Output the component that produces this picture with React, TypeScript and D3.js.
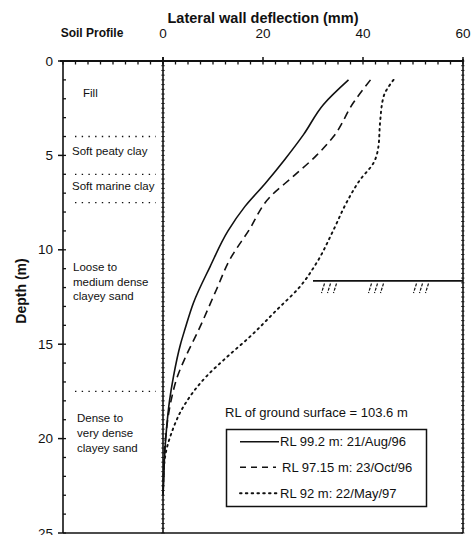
import React from "react";
import * as d3 from "d3";

// ---- data ----
const xTicks = [0, 20, 40, 60];
const yTicks = [0, 5, 10, 15, 20, 25];

const depthA = [1.0, 2.3, 3.9, 5.2, 6.5, 7.7, 9.0, 10.9, 12.8, 14.2, 15.0, 16.7, 18.0, 19.5, 21.0, 22.5, 23.0];
const deflA = [37.1, 32.1, 28.1, 24.4, 20.4, 16.4, 13.0, 9.4, 6.1, 4.4, 3.5, 2.1, 1.3, 0.7, 0.3, 0.1, 0];

const depthB = [1.0, 2.2, 4.0, 5.0, 6.1, 7.2, 9.0, 10.5, 12.1, 14.2, 15.8, 16.7, 18.0, 20.0, 22.0, 23.0];
const deflB = [41.5, 38.1, 34.1, 30.7, 26.1, 21.4, 17.1, 13.4, 10.7, 7.2, 4.3, 2.9, 1.6, 0.5, 0.1, 0];

const depthC = [1.0, 1.9, 3.3, 4.5, 5.4, 6.3, 7.5, 8.95, 10.7, 11.95, 13.2, 14.6, 15.7, 16.7, 18.3, 19.7, 21.0, 22.5];
const deflC = [46.1, 44.1, 43.4, 43.1, 42.1, 39.4, 36.7, 34.1, 30.7, 27.4, 22.7, 17.4, 12.7, 8.7, 4.1, 1.7, 0.4, 0];

const seriesNames = ["RL 99.2 m: 21/Aug/96", "RL 97.15 m: 23/Oct/96", "RL 92 m: 22/May/97"];

const soilBoundaries = [4.0, 6.0, 7.5, 17.5];
const soilLabels = [
  { depth: 1.7, lines: ["Fill"], indent: 20 },
  { depth: 4.77, lines: ["Soft peaty clay"], indent: 9 },
  { depth: 6.6, lines: ["Soft marine clay"], indent: 9 },
  { depth: 10.9, lines: ["Loose to", "medium dense", "clayey sand"], indent: 10 },
  { depth: 18.93, lines: ["Dense to", "very dense", "clayey sand"], indent: 14 },
];

const groundDepth = 11.65;
const groundFrom = 30;
const hatchGroups = [31.8, 41.2, 50.2];

export default function App() {
  const x = d3.scaleLinear().domain([0, 60]).range([163, 463]);
  const y = d3.scaleLinear().domain([0, 25]).range([61, 533]);
  const prof = d3.scaleLinear().domain([0, 8]).range([63, 163]);

  const line = d3
    .line<[number, number]>()
    .x((d) => x(d[0]))
    .y((d) => y(d[1]))
    .curve(d3.curveMonotoneY);

  const pA = deflA.map((v, i) => [v, depthA[i]] as [number, number]);
  const pB = deflB.map((v, i) => [v, depthB[i]] as [number, number]);
  const pC = deflC.map((v, i) => [v, depthC[i]] as [number, number]);

  const ink = "#111";
  const font = "'Liberation Sans', Arial, sans-serif";

  const minorTop = d3.range(0, 60.01, 2.5);
  const minorProf = d3.range(0, 9);
  const minorY = d3.range(0, 25.01, 1);
  const fineY = d3.range(0, 25.01, 0.25);

  const styles = [
    { dash: undefined as string | undefined, w: 1.6 },
    { dash: "8,5", w: 1.6 },
    { dash: "1.6,4.2", w: 1.9 },
  ];

  const legendRowsY = [441.7, 467.3, 493.3];

  return (
    <svg
      width={475}
      height={535}
      style={{ position: "absolute", left: 0, top: 0, background: "#fff" }}
      fontFamily={font}
    >
      <rect x={0} y={0} width={475} height={535} fill="#fff" />
      {/* title */}
      <text x={263} y={18} textAnchor="middle" dominantBaseline="central" fontSize={14.5} fontWeight="bold" fill={ink}>
        Lateral wall deflection (mm)
      </text>
      <text x={92} y={33} textAnchor="middle" dominantBaseline="central" fontSize={12} fontWeight="bold" fill={ink}>
        Soil Profile
      </text>
      {xTicks.map((t) => (
        <text key={"xt" + t} x={x(t)} y={33} textAnchor="middle" dominantBaseline="central" fontSize={13.5} fill={ink}>
          {t}
        </text>
      ))}
      {yTicks.map((t) => (
        <text key={"yt" + t} x={53} y={y(t)} textAnchor="end" dominantBaseline="central" fontSize={13.5} fill={ink}>
          {t}
        </text>
      ))}
      <text
        transform={`translate(21,${291}) rotate(-90)`}
        textAnchor="middle"
        dominantBaseline="central"
        fontSize={14}
        fontWeight="bold"
        fill={ink}
      >
        Depth (m)
      </text>

      {/* frame */}
      <line x1={60} x2={463} y1={y(0)} y2={y(0)} stroke={ink} strokeWidth={2} />
      <line x1={63} x2={63} y1={y(0)} y2={y(25)} stroke={ink} strokeWidth={1.6} />
      <line x1={463} x2={463} y1={y(0) - 2} y2={y(25)} stroke={ink} strokeWidth={1.6} />
      <line x1={63} x2={463} y1={y(25)} y2={y(25)} stroke={ink} strokeWidth={1.6} />
      <line x1={x(0)} x2={x(0)} y1={y(0) - 4} y2={y(25)} stroke={ink} strokeWidth={1.6} />

      {/* top ticks */}
      {minorTop.map((t) => (
        <line key={"mt" + t} x1={x(t)} x2={x(t)} y1={y(0)} y2={y(0) + 3.5} stroke={ink} strokeWidth={1.3} />
      ))}
      {minorProf.map((t) => (
        <line key={"mp" + t} x1={prof(t)} x2={prof(t)} y1={y(0)} y2={y(0) + 3.5} stroke={ink} strokeWidth={1.3} />
      ))}
      {xTicks.map((t) => (
        <line key={"Mt" + t} x1={x(t)} x2={x(t)} y1={y(0) - 4} y2={y(0)} stroke={ink} strokeWidth={1.5} />
      ))}
      {/* left ticks */}
      {yTicks.map((t) => (
        <line key={"My" + t} x1={58} x2={63} y1={y(t)} y2={y(t)} stroke={ink} strokeWidth={1.5} />
      ))}
      {minorY.map((t) => (
        <line key={"my" + t} x1={63} x2={66} y1={y(t)} y2={y(t)} stroke={ink} strokeWidth={1.3} />
      ))}
      {/* textured vertical lines */}
      {fineY.map((t) => (
        <g key={"fy" + t}>
          <line x1={x(0) - 1.8} x2={x(0) + 1.8} y1={y(t)} y2={y(t)} stroke={ink} strokeWidth={0.8} />
          <line x1={461} x2={464.5} y1={y(t)} y2={y(t)} stroke={ink} strokeWidth={0.8} />
        </g>
      ))}

      {/* soil profile */}
      {soilBoundaries.map((d) => (
        <line
          key={"sb" + d}
          x1={75}
          x2={156}
          y1={y(d)}
          y2={y(d)}
          stroke={ink}
          strokeWidth={1.3}
          strokeDasharray="1.4,5.3"
        />
      ))}
      {soilLabels.map((s, i) => (
        <g key={"sl" + i}>
          {s.lines.map((ln, j) => (
            <text
              key={j}
              x={63 + s.indent}
              y={y(s.depth) + j * 14.8}
              dominantBaseline="central"
              fontSize={11.5}
              fill={ink}
            >
              {ln}
            </text>
          ))}
        </g>
      ))}

      {/* ground surface line */}
      <line x1={x(groundFrom)} x2={x(60)} y1={y(groundDepth)} y2={y(groundDepth)} stroke={ink} strokeWidth={1.8} />
      {hatchGroups.map((g) =>
        [0, 1.2, 2.4].map((o) => (
          <line
            key={"h" + g + o}
            x1={x(g + o) + 2.5}
            x2={x(g + o) - 0.5}
            y1={y(groundDepth) + 2.5}
            y2={y(groundDepth) + 12}
            stroke={ink}
            strokeWidth={1.2}
            strokeDasharray="3,1.5"
          />
        ))
      )}

      {/* curves */}
      {[pA, pB, pC].map((p, i) => (
        <path
          key={"c" + i}
          d={line(p) || ""}
          fill="none"
          stroke={ink}
          strokeWidth={styles[i].w}
          strokeDasharray={styles[i].dash}
          strokeLinecap={i === 2 ? "round" : "butt"}
        />
      ))}

      {/* legend */}
      <text x={225} y={412} dominantBaseline="central" fontSize={13} fill={ink}>
        RL of ground surface = 103.6 m
      </text>
      <rect x={226.5} y={429.5} width={200} height={77} fill="none" stroke={ink} strokeWidth={1.5} />
      {seriesNames.map((n, i) => (
        <g key={"lg" + i}>
          <line
            x1={240}
            x2={i === 1 ? 276 : 279}
            y1={legendRowsY[i]}
            y2={legendRowsY[i]}
            stroke={ink}
            strokeWidth={styles[i].w}
            strokeDasharray={i === 1 ? "6,5" : styles[i].dash}
            strokeLinecap={i === 2 ? "round" : "butt"}
          />
          <text x={i === 1 ? 282 : 280} y={legendRowsY[i]} dominantBaseline="central" fontSize={13} fill={ink}>
            {n}
          </text>
        </g>
      ))}
    </svg>
  );
}
